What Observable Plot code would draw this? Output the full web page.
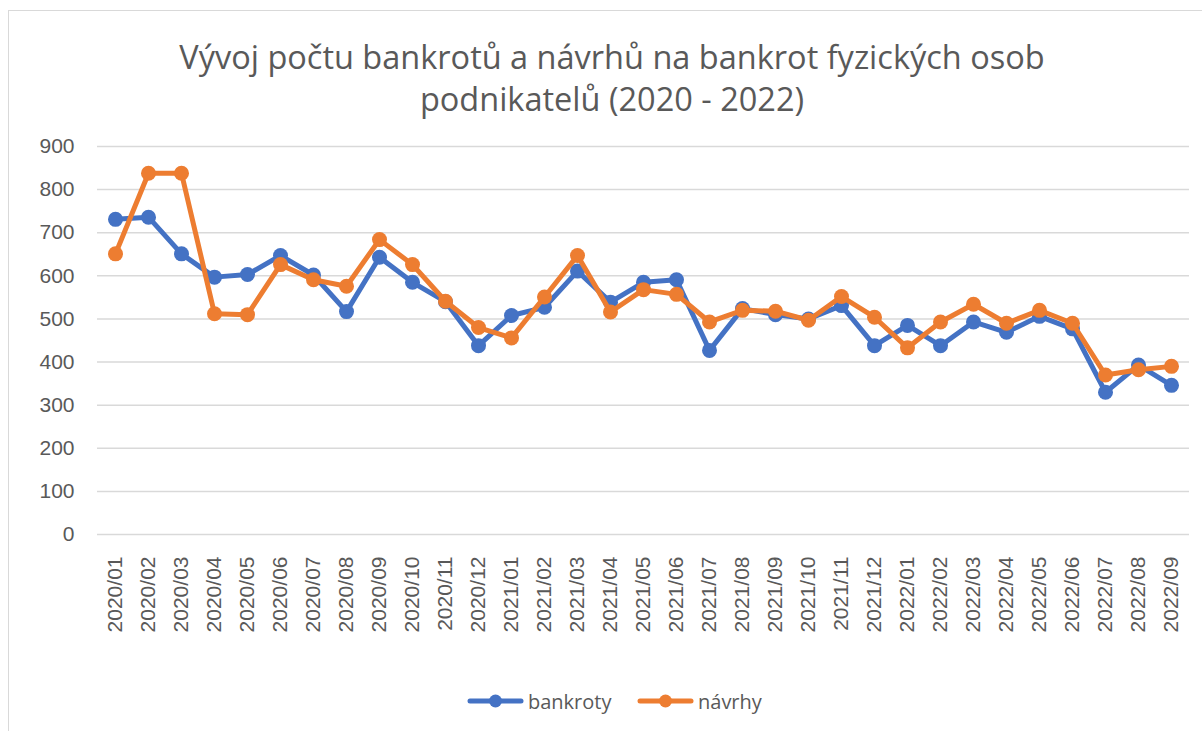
<!DOCTYPE html>
<html>
<head>
<meta charset="utf-8">
<script src="https://cdn.jsdelivr.net/npm/d3@7"></script>
<script src="https://cdn.jsdelivr.net/npm/@observablehq/plot@0.6"></script>
<style>
  html, body { margin: 0; padding: 0; background: #fff; overflow: hidden; }
  body { width: 1202px; height: 731px; position: relative; }
  #frame { position: absolute; left: 8px; top: 10px; width: 1210px; height: 740px; border: 1px solid #d9d9d9; box-sizing: border-box; }
  #title { position: absolute; left: 8px; width: 1208px; top: 36px; text-align: center; font-family: "Open Sans", sans-serif; font-weight: 400; font-size: 32.5px; line-height: 42px; color: #595959; }
  #chart { position: absolute; left: 0; top: 130px; }
  #legend { position: absolute; left: 0; width: 1202px; top: 686px; height: 30px; font-family: "Open Sans", sans-serif; font-size: 20px; color: #595959; }
  .item { position: absolute; top: 0; height: 30px; display: flex; align-items: center; }
  .item svg { margin-right: 4px; }
</style>
</head>
<body>
<div id="frame"></div>
<div id="title">Vývoj počtu bankrotů a návrhů na bankrot fyzických osob<br>podnikatelů (2020 - 2022)</div>
<div id="chart"></div>
<div id="legend"></div>
<script>
const months = ["2020/01","2020/02","2020/03","2020/04","2020/05","2020/06","2020/07","2020/08","2020/09","2020/10","2020/11","2020/12",
  "2021/01","2021/02","2021/03","2021/04","2021/05","2021/06","2021/07","2021/08","2021/09","2021/10","2021/11","2021/12",
  "2022/01","2022/02","2022/03","2022/04","2022/05","2022/06","2022/07","2022/08","2022/09"];
const bankroty = [731,736,651,597,603,647,602,517,643,585,540,438,
  508,527,611,539,585,591,427,524,510,500,531,438,
  485,438,493,469,506,477,330,393,346];
const navrhy = [651,838,838,512,510,626,591,576,684,626,541,480,
  456,551,647,516,568,557,493,520,518,497,552,504,
  433,493,534,490,520,490,370,382,390];
const seriesNames = ["bankroty","návrhy"];
const seriesColors = ["#4472C4","#ED7D31"];
const yTicks = [0,100,200,300,400,500,600,700,800,900];

const rowsB = months.map((m,i)=>({month:m, value:bankroty[i]}));
const rowsN = months.map((m,i)=>({month:m, value:navrhy[i]}));

const chart = Plot.plot({
  width: 1202,
  height: 530,
  marginTop: 16,
  marginBottom: 126,
  marginLeft: 97,
  marginRight: 13,
  style: {fontFamily: "'Liberation Sans', Arial, sans-serif", fontSize: "21px", color: "#595959", background: "transparent"},
  x: {type: "point", domain: months, padding: 0.5, label: null},
  y: {domain: [0, 900], label: null},
  marks: [
    Plot.gridY(yTicks, {stroke: "#d9d9d9", strokeOpacity: 1, strokeWidth: 1.5}),
    Plot.axisY(yTicks, {tickSize: 0, tickPadding: 23, fontSize: 21, label: null}),
    Plot.axisX({tickSize: 0, tickRotate: -90, tickPadding: 22, fontSize: 21, label: null}),
    Plot.line(rowsB, {x: "month", y: "value", stroke: seriesColors[0], strokeWidth: 5, strokeLinejoin: "round", strokeLinecap: "round"}),
    Plot.dot(rowsB, {x: "month", y: "value", r: 7.5, fill: seriesColors[0], stroke: "none"}),
    Plot.line(rowsN, {x: "month", y: "value", stroke: seriesColors[1], strokeWidth: 5, strokeLinejoin: "round", strokeLinecap: "round"}),
    Plot.dot(rowsN, {x: "month", y: "value", r: 7.5, fill: seriesColors[1], stroke: "none"})
  ]
});
document.getElementById("chart").appendChild(chart);

const legend = document.getElementById("legend");
const lefts = [467, 637];
seriesNames.forEach((name, i) => {
  const item = document.createElement("div");
  item.className = "item";
  item.style.left = lefts[i] + "px";
  item.innerHTML = `<svg width="57" height="20"><line x1="3" y1="10" x2="54" y2="10" stroke="${seriesColors[i]}" stroke-width="5" stroke-linecap="round"/><circle cx="28.5" cy="10" r="6.5" fill="${seriesColors[i]}"/></svg>`;
  const span = document.createElement("span");
  span.textContent = name;
  item.appendChild(span);
  legend.appendChild(item);
});
</script>
</body>
</html>
